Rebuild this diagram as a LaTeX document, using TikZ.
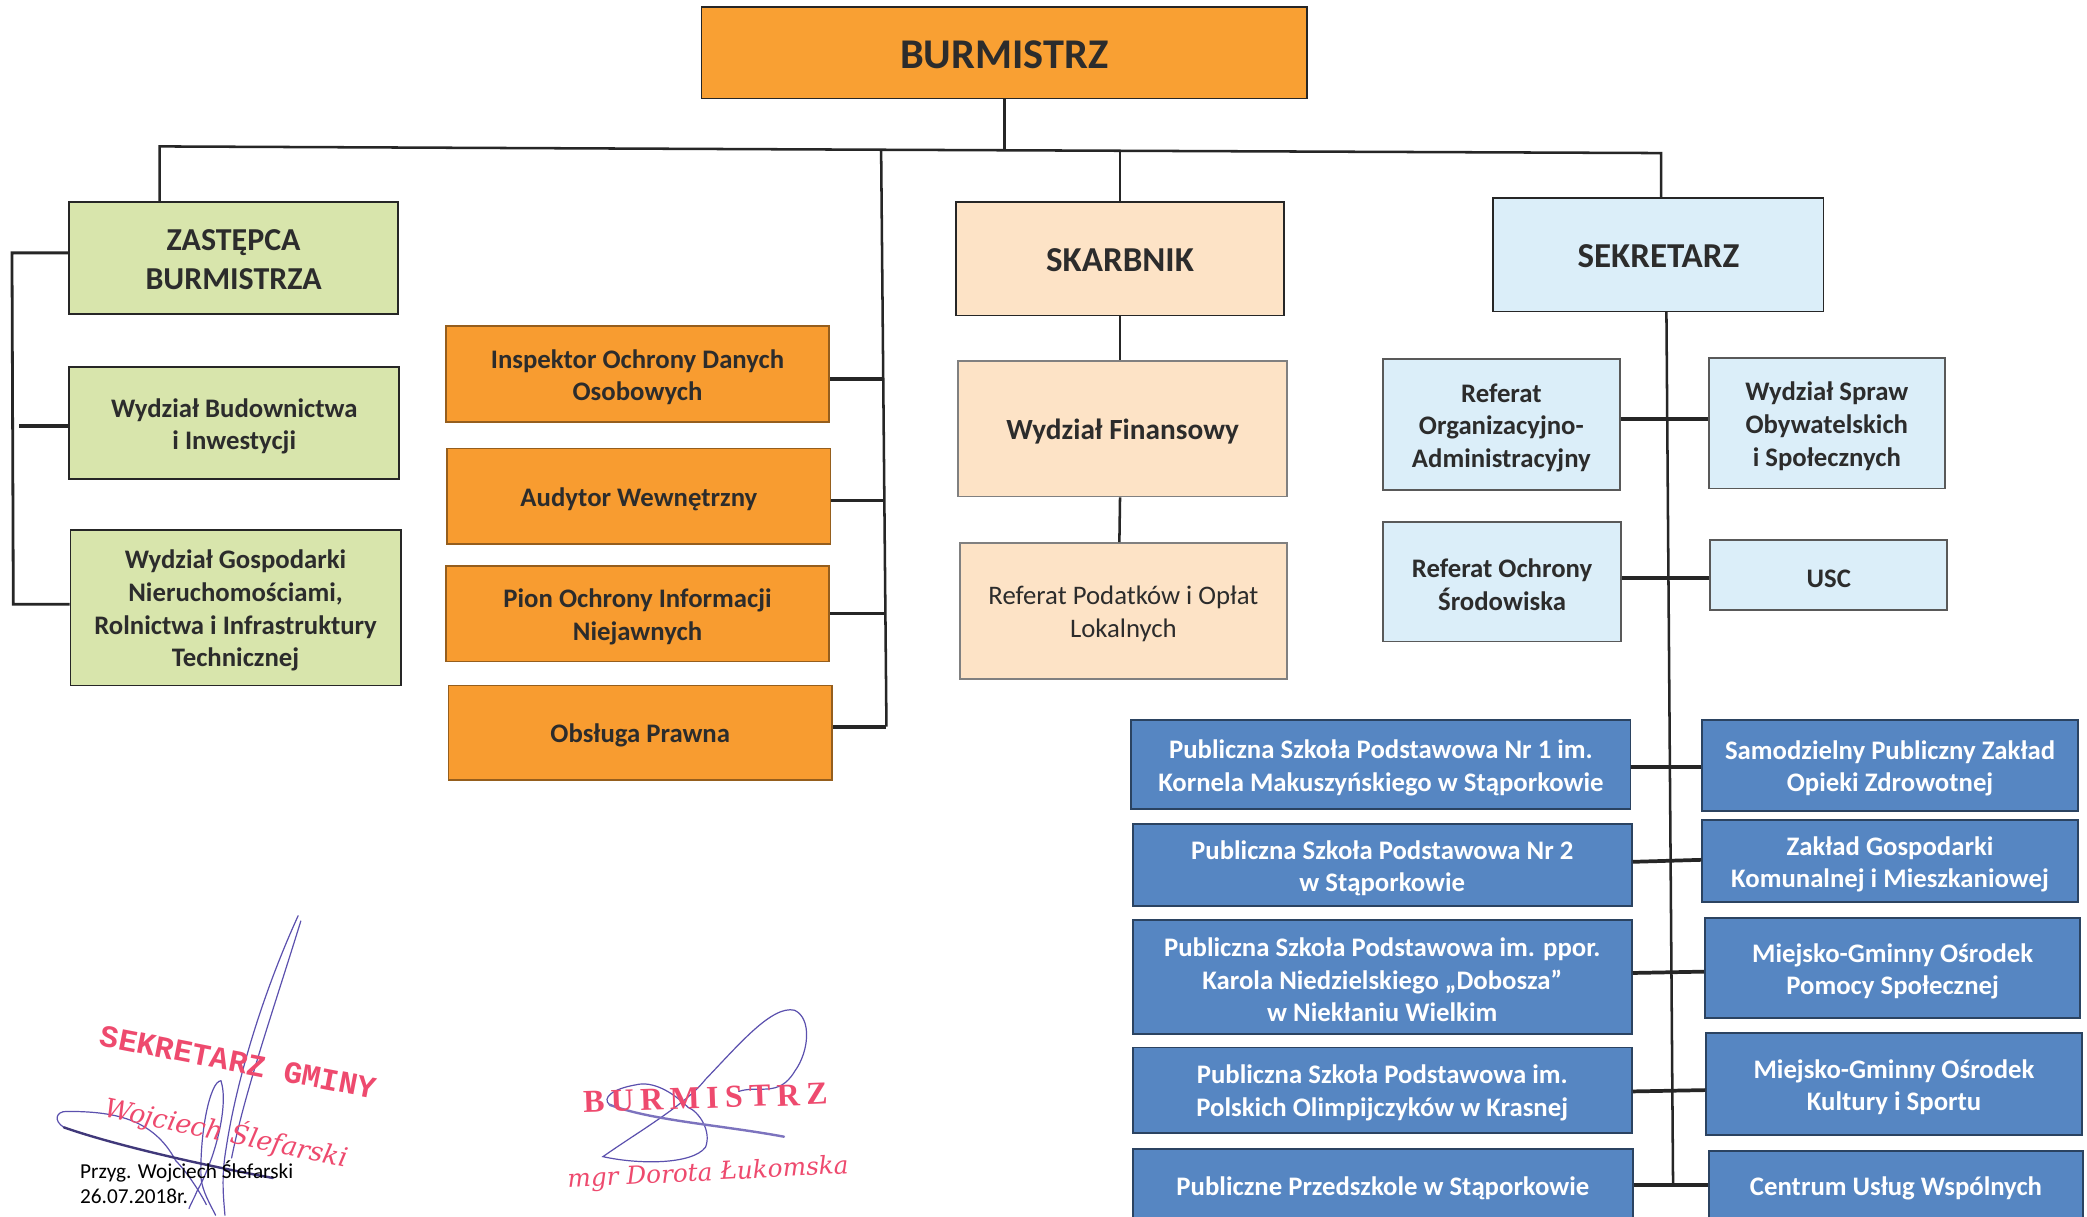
\documentclass[tikz,border=0pt]{standalone}
\usepackage{fontspec}
\setmainfont{Carlito}
\newfontfamily\stampfont{Liberation Mono}
\newfontfamily\stampwide[LetterSpace=20]{Liberation Serif}
\newfontfamily\stampital{DejaVu Serif}
\definecolor{orangeA}{HTML}{F9A033}
\definecolor{orangeB}{HTML}{F89C30}
\definecolor{greenA}{HTML}{D8E5AC}
\definecolor{peachA}{HTML}{FDE3C6}
\definecolor{skyA}{HTML}{DBEEF9}
\definecolor{blueA}{HTML}{5686C2}
\definecolor{lineA}{HTML}{262626}
\definecolor{textA}{HTML}{2C2C2C}
\definecolor{stampA}{HTML}{EE4A6E}
\definecolor{signA}{HTML}{5B50AE}
\def\strutf{0.93}
\tikzset{
  boxbase/.style={draw=lineA,line width=1.4pt,inner sep=0pt,align=center,text=textA,
    font=\fontsize{20.1}{24.5}\selectfont\bfseries},
  burm/.style={boxbase,fill=orangeA,font=\fontsize{31.8}{36}\selectfont\bfseries\def\strutf{0.75}},
  title/.style={boxbase,font=\fontsize{26.3}{29}\selectfont\bfseries\def\strutf{0.75}},
  titlesmall/.style={boxbase,font=\fontsize{24}{29}\selectfont\bfseries\def\strutf{0.75}},
  greenbox/.style={boxbase,fill=greenA},
  orangebox/.style={boxbase,fill=orangeB,draw=orangeB!60!black},
  peachbox/.style={boxbase,fill=peachA,draw=gray},
  skybox/.style={boxbase,fill=skyA,draw=gray!70!black},
  bluebox/.style={boxbase,fill=blueA,draw=blueA!50!black,text=white},
  conn/.style={draw=lineA,line width=1.9pt},
  stub/.style={draw=lineA,line width=2.8pt},
  stubthin/.style={draw=lineA,line width=2.1pt},
  stamp/.style={text=stampA,inner sep=0pt},
  sign/.style={draw=signA,line width=0.9pt,line cap=round},
  signthick/.style={draw=signA!70!black,line width=1.8pt,line cap=round}
}
\newcommand{\bx}[7]{\node[#6,minimum width={(#4-#2)*1pt},minimum height={(#5-#3)*1pt}] (#1) at ({(#2+#4)/2},{(#3+#5)/2}) {\rule{0pt}{\strutf em}#7};}
\begin{document}
\begin{tikzpicture}[x=1pt,y=-1pt]
\clip (0,0) rectangle (1568,913.6);
\fill[white] (0,0) rectangle (1568,913.6);
% connectors' fixed points
\coordinate (busL) at (120,110);
\coordinate (busC) at (662,112.5);
\coordinate (busR) at (1248,115);
\coordinate (trunkC) at (666,546);
\coordinate (brTop) at (9,190);
\coordinate (brBot) at (10,454);
\coordinate (stubW) at (14,320);
\coordinate (trunkT) at (1252,234);
\coordinate (trunkB) at (1257,890);
% boxes
\bx{burmistrz}{527}{5}{982}{74}{burm}{BURMISTRZ}
\bx{zast}{52}{152}{299}{236}{titlesmall,fill=greenA}{ZASTĘPCA\\BURMISTRZA}
\bx{wb}{52}{276}{300}{360}{greenbox}{Wydział Budownictwa\\i Inwestycji}
\bx{wg}{53}{398}{301}{515}{greenbox}{Wydział Gospodarki\\Nieruchomościami,\\Rolnictwa i Infrastruktury\\Technicznej}
\bx{io}{335}{245}{623}{317}{orangebox}{Inspektor Ochrony Danych\\Osobowych}
\bx{aw}{336}{337}{624}{409}{orangebox}{Audytor Wewnętrzny}
\bx{po}{335}{425}{623}{497}{orangebox}{Pion Ochrony Informacji\\Niejawnych}
\bx{op}{337}{515}{625}{586}{orangebox}{Obsługa Prawna}
\bx{skarb}{718}{152}{965}{237}{title,fill=peachA}{SKARBNIK}
\bx{wf}{720}{271}{967}{373}{peachbox,font=\fontsize{22}{26}\selectfont\bfseries}{Wydział Finansowy}
\bx{rp}{721}{408}{967}{510}{peachbox,font=\fontsize{20.1}{24.5}\selectfont}{Referat Podatków i Opłat\\Lokalnych}
\bx{sek}{1122}{149}{1370}{234}{title,fill=skyA}{SEKRETARZ}
\bx{ro}{1039}{270}{1217}{368}{skybox}{Referat\\Organizacyjno-\\Administracyjny}
\bx{ws}{1284}{269}{1461}{367}{skybox}{Wydział Spraw\\Obywatelskich\\i Społecznych}
\bx{ros}{1039}{392}{1218}{482}{skybox}{Referat Ochrony\\Środowiska}
\bx{usc}{1285}{406}{1463}{458}{skybox}{USC}
\bx{ps1}{850}{541}{1225}{608}{bluebox}{Publiczna Szkoła Podstawowa Nr 1 im.\\Kornela Makuszyńskiego w Stąporkowie}
\bx{ps2}{851}{619}{1226}{681}{bluebox}{Publiczna Szkoła Podstawowa Nr 2\\w Stąporkowie}
\bx{ps3}{851}{691}{1226}{777}{bluebox}{Publiczna Szkoła Podstawowa im. ppor.\\Karola Niedzielskiego „Dobosza”\\w Niekłaniu Wielkim}
\bx{ps4}{851}{787}{1226}{851}{bluebox}{Publiczna Szkoła Podstawowa im.\\Polskich Olimpijczyków w Krasnej}
\bx{psp}{851}{863}{1227}{918}{bluebox}{Publiczne Przedszkole w Stąporkowie}
\bx{sp}{1279}{541}{1561}{609}{bluebox}{Samodzielny Publiczny Zakład\\Opieki Zdrowotnej}
\bx{zg}{1279}{616}{1561}{678}{bluebox}{Zakład Gospodarki\\Komunalnej i Mieszkaniowej}
\bx{mp}{1281}{690}{1563}{765}{bluebox}{Miejsko-Gminny Ośrodek\\Pomocy Społecznej}
\bx{mk}{1282}{776}{1564}{853}{bluebox}{Miejsko-Gminny Ośrodek\\Kultury i Sportu}
\bx{cu}{1284}{865}{1565}{916}{bluebox}{Centrum Usług Wspólnych}
% top bus
\draw[conn] (burmistrz.south) -- (burmistrz.south |- busC);
\draw[conn] (zast.north -| busL) -- (busL) -- (busC) -- (busR) -- (sek.north -| busR);
\draw[conn] (busC) -- (trunkC);
\draw[conn] (skarb.north) -- ++(0,-37);
% left bracket
\draw[stubthin] ([yshift=4pt]zast.west) -- (brTop) -- (brBot) -- ([yshift=2.5pt]wg.west);
\draw[stub] (wb.west |- stubW) -- (stubW);
% staff stubs
\draw[stub] ([yshift=-4pt]io.east) -- ++(40,0);
\draw[stubthin] ([yshift=-3pt]aw.east) -- ++(40,0);
\draw[stubthin] (po.east) -- ++(42,0);
\draw[stub] ([yshift=4.5pt]op.east) -- (trunkC);
% treasurer chain
\draw[conn] (skarb.south) -- (wf.north -| skarb.south);
\draw[conn] ([xshift=-2pt]wf.south) -- ([xshift=-3pt]rp.north);
% secretary trunk
\draw[conn] (trunkT) -- (trunkB);
\draw[stub] ([yshift=4pt]ro.east) -- ([yshift=3pt]ws.west);
\draw[stub] ([yshift=3pt]ros.east) -- ([yshift=-2pt]usc.west);
\draw[stub] ([yshift=-1.5pt]ps1.east) -- ([yshift=-1pt]sp.west);
\draw[stub] ([yshift=2.5pt]ps2.east) -- ([yshift=1pt]zg.west);
\draw[stub] ([yshift=3pt]ps3.east) -- ([yshift=-2.5pt]mp.west);
\draw[stub] ([yshift=-1pt]ps4.east) -- ([yshift=-4.5pt]mk.west);
\draw[stub] (psp.east) -- (cu.west);
% signatures
\draw[sign] (224,688) .. controls (198,745) and (178,810) .. (170,862) .. controls (166,885) and (168,900) .. (169,913);
\draw[sign] (226,692) .. controls (205,760) and (184,820) .. (174,870);
\draw[sign] (166,812) .. controls (158,812) and (150,850) .. (151,885) .. controls (152,895) and (158,905) .. (162,913);
\draw[sign] (166,812) .. controls (172,830) and (162,870) .. (148,895) .. controls (146,900) and (143,905) .. (142,908);
\draw[sign] (132,872) .. controls (115,840) and (85,835) .. (50,835) .. controls (42,835) and (40,842) .. (48,847);
\draw[signthick] (48,847) .. controls (85,860) and (150,875) .. (205,885);
\draw[sign] (132,872) .. controls (140,880) and (150,895) .. (155,905);
\draw[sign] (530,811) .. controls (555,785) and (580,755) .. (597,759) .. controls (610,765) and (608,790) .. (597,805) .. controls (585,825) and (570,815) .. (555,820);
\draw[sign] (530,811) .. controls (515,830) and (480,850) .. (453,869) .. controls (480,875) and (520,875) .. (530,862) .. controls (535,850) and (525,835) .. (517,832) .. controls (505,820) and (490,812) .. (478,815) .. controls (460,818) and (452,825) .. (458,830);
\draw[signthick,draw=signA!80!white] (458,830) .. controls (490,842) and (540,845) .. (589,854);
% stamps
\node[stamp,rotate=-11,font=\stampfont\fontsize{23.4}{26}\selectfont\bfseries] (st1) at (179,798) {SEKRETARZ GMINY};
\node[stamp,rotate=-12,font=\stampital\fontsize{19.9}{24}\selectfont\itshape] (st2) at (170,851) {Wojciech Ślefarski};
\node[stamp,rotate=2,font=\stampwide\fontsize{24}{28}\selectfont\bfseries] (st3) at (530,825) {BURMISTRZ};
\node[stamp,rotate=3,font=\stampital\fontsize{18.6}{24}\selectfont\itshape] (st4) at (532,882) {mgr Dorota Łukomska};
\node[anchor=west,inner sep=0pt,font=\fontsize{16}{19}\selectfont,text=black] (prz) at (60,880) {Przyg. Wojciech Ślefarski};
\node[anchor=west,inner sep=0pt,font=\fontsize{16}{19}\selectfont,text=black] (dat) at (60,899) {26.07.2018r.};
\end{tikzpicture}
\end{document}
